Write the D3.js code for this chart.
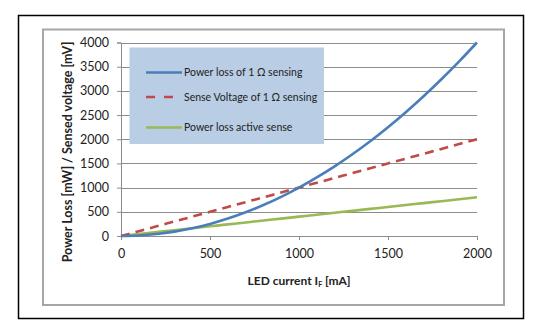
<!DOCTYPE html>
<html>
<head>
<meta charset="utf-8">
<script src="https://cdn.jsdelivr.net/npm/d3@7"></script>
<style>
  body { margin: 0; background: #fff; }
  svg text { font-family: Lato, "Open Sans", sans-serif; }
</style>
</head>
<body>
<svg id="chart" width="535" height="332"></svg>
<script>
// LED current in mA
var current = [0, 100, 200, 300, 400, 500, 600, 700, 800, 900, 1000,
               1100, 1200, 1300, 1400, 1500, 1600, 1700, 1800, 1900, 2000];
// power loss in the 1 ohm sense resistor (mW)
var lossOneOhm = [0, 10, 40, 90, 160, 250, 360, 490, 640, 810, 1000,
                  1210, 1440, 1690, 1960, 2250, 2560, 2890, 3240, 3610, 4000];
// voltage across the 1 ohm sense resistor (mV)
var senseVoltage = [0, 100, 200, 300, 400, 500, 600, 700, 800, 900, 1000,
                    1100, 1200, 1300, 1400, 1500, 1600, 1700, 1800, 1900, 2000];
// power loss with active sensing (mW)
var lossActive = [0, 40, 80, 120, 160, 200, 240, 280, 320, 360, 400,
                  440, 480, 520, 560, 600, 640, 680, 720, 760, 800];

var yTicks = [0, 500, 1000, 1500, 2000, 2500, 3000, 3500, 4000];
var xTicks = [0, 500, 1000, 1500, 2000];

var seriesNames = ["Power loss of 1 \u03A9 sensing", "Sense Voltage of 1 \u03A9 sensing", "Power loss active sense"];
var seriesData = [lossOneOhm, senseVoltage, lossActive];
var seriesColors = ["#4a7ebb", "#be4b48", "#98b954"];
var seriesDash = [null, "9,6", null];

var svg = d3.select("#chart");

// outer frame and chart area border
svg.append("rect").attr("x", 18.5).attr("y", 15.5).attr("width", 505).attr("height", 303)
  .attr("fill", "#fff").attr("stroke", "#000").attr("stroke-width", 1.5);
svg.append("rect").attr("x", 43).attr("y", 29.5).attr("width", 461).attr("height", 275.5)
  .attr("fill", "#fff").attr("stroke", "#a6a6a6").attr("stroke-width", 2);

var x = d3.scaleLinear().domain([0, 2000]).range([121, 477]);
var y = d3.scaleLinear().domain([0, 4000]).range([236, 42.5]);

// horizontal gridlines
svg.append("g").selectAll("line")
  .data(yTicks.slice(1))
  .enter()
  .append("line")
  .attr("x1", x(0)).attr("x2", x(2000))
  .attr("y1", d => Math.round(y(d)) + 0.5).attr("y2", d => Math.round(y(d)) + 0.5)
  .attr("stroke", "#8c8c8c").attr("stroke-width", 1);

// y axis
var yAxis = svg.append("g").attr("transform", "translate(" + x(0) + ",0)")
  .call(d3.axisLeft(y).tickValues(yTicks).tickFormat(d3.format("d")).tickSize(4).tickPadding(8));
yAxis.select(".domain").attr("stroke", "#8c8c8c");
yAxis.selectAll(".tick line").attr("stroke", "#8c8c8c");
yAxis.selectAll(".tick text").attr("fill", "#222").style("font-size", "12.5px");

// x axis
var xAxis = svg.append("g").attr("transform", "translate(0," + y(0) + ")")
  .call(d3.axisBottom(x).tickValues(xTicks).tickFormat(d3.format("d")).tickSize(4).tickPadding(9));
xAxis.select(".domain").attr("stroke", "#8c8c8c");
xAxis.selectAll(".tick line").attr("stroke", "#8c8c8c");
xAxis.selectAll(".tick text").attr("fill", "#222").style("font-size", "12.5px");

// axis titles
var xt = svg.append("text").attr("x", 299).attr("y", 285)
  .attr("text-anchor", "middle").style("font-size", "12px").style("font-weight", "bold").attr("fill", "#222");
xt.append("tspan").text("LED current I");
xt.append("tspan").attr("dy", 2).style("font-size", "7px").text("F");
xt.append("tspan").attr("dy", -2).text(" [mA]");

svg.append("text")
  .attr("transform", "translate(72,152) rotate(-90)")
  .attr("text-anchor", "middle").style("font-size", "12.5px").style("font-weight", "bold").attr("fill", "#222")
  .text("Power Loss [mW] / Sensed voltage [mV]");

// series lines
var line = d3.line().x((d, i) => x(current[i])).y(d => y(d)).curve(d3.curveMonotoneX);

svg.append("g").selectAll("path")
  .data(seriesData.map((v, i) => ({values: v, i: i})).reverse())
  .enter()
  .append("path")
  .attr("d", d => line(d.values))
  .attr("fill", "none")
  .attr("stroke", d => seriesColors[d.i])
  .attr("stroke-width", 2.6)
  .attr("stroke-dasharray", d => seriesDash[d.i]);

// legend
var legendRows = [72.5, 97, 127.5];
svg.append("rect").attr("x", 129.5).attr("y", 47.5).attr("width", 194.5).attr("height", 96.5)
  .attr("fill", "#b9cde5");

var lg = svg.append("g").selectAll("g")
  .data(seriesNames)
  .enter()
  .append("g")
  .attr("transform", (d, i) => "translate(0," + legendRows[i] + ")");

lg.append("line")
  .attr("x1", 146).attr("x2", 182)
  .attr("stroke", (d, i) => seriesColors[i])
  .attr("stroke-width", 2.6)
  .attr("stroke-dasharray", (d, i) => i === 1 ? "9,9" : null);

lg.append("text")
  .attr("x", 184).attr("dy", "0.35em")
  .style("font-size", "10.5px").attr("fill", "#222")
  .text(d => d);
</script>
</body>
</html>
